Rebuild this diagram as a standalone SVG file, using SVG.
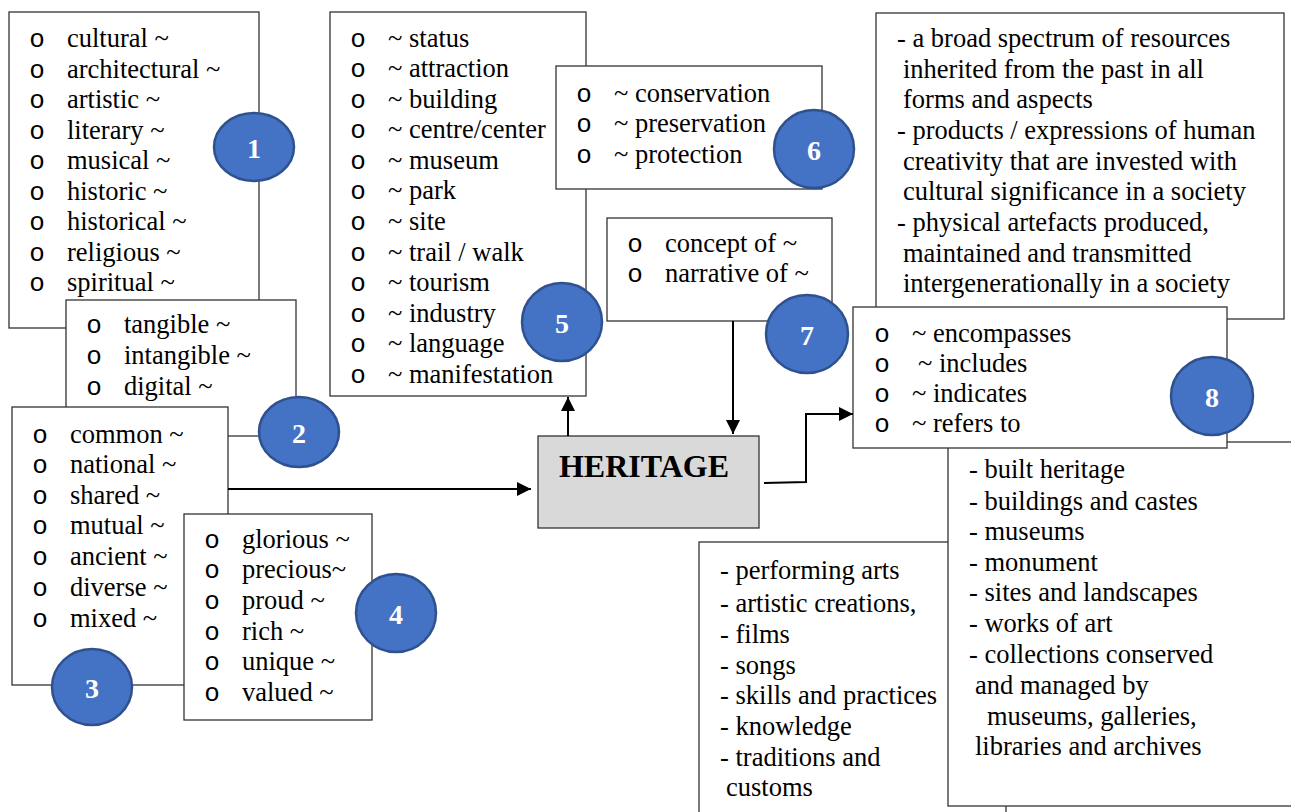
<svg xmlns="http://www.w3.org/2000/svg" width="1291" height="812" viewBox="0 0 1291 812">
<style>
.box{fill:#fff;stroke:#333;stroke-width:1.3}
.c{fill:#4472C4;stroke:#2F528F;stroke-width:2.5}
.ln{fill:none;stroke:#000;stroke-width:2}
</style>
<defs>
<marker id="ah" viewBox="0 0 10 10" refX="10" refY="5" markerWidth="7.5" markerHeight="7" orient="auto" markerUnits="strokeWidth">
<path d="M0,0 L10,5 L0,10 z" fill="#000"/>
</marker>
</defs>
<rect width="1291" height="812" fill="#fff"/>

<g id="node-adjectives1">
<rect class="box" x="9" y="12" width="250" height="316"/>
<g font-family="Liberation Mono, monospace" font-size="26" text-anchor="middle"><text x="37" y="47">o</text><text x="37" y="77.5">o</text><text x="37" y="108">o</text><text x="37" y="138.5">o</text><text x="37" y="169">o</text><text x="37" y="199.5">o</text><text x="37" y="230">o</text><text x="37" y="260.5">o</text><text x="37" y="291">o</text></g>
<g font-family="Liberation Serif, serif" font-size="26.5"><text x="67" y="47">cultural ~</text><text x="67" y="77.5">architectural ~</text><text x="67" y="108">artistic ~</text><text x="67" y="138.5">literary ~</text><text x="67" y="169">musical ~</text><text x="67" y="199.5">historic ~</text><text x="67" y="230">historical ~</text><text x="67" y="260.5">religious ~</text><text x="67" y="291">spiritual ~</text></g>
</g>
<g id="badge1"><ellipse class="c" cx="254" cy="147" rx="40" ry="34"/><text font-family="Liberation Serif, serif" font-size="28" font-weight="bold" fill="#fff" text-anchor="middle" x="254" y="158">1</text></g>

<g id="node-adjectives2">
<rect class="box" x="66" y="300" width="230" height="136"/>
<g font-family="Liberation Mono, monospace" font-size="26" text-anchor="middle"><text x="94" y="333">o</text><text x="94" y="364">o</text><text x="94" y="395">o</text></g>
<g font-family="Liberation Serif, serif" font-size="26.5"><text x="124" y="333">tangible ~</text><text x="124" y="364">intangible ~</text><text x="124" y="395">digital ~</text></g>
</g>
<g id="badge2"><ellipse class="c" cx="299" cy="432" rx="40" ry="35"/><text font-family="Liberation Serif, serif" font-size="28" font-weight="bold" fill="#fff" text-anchor="middle" x="299" y="443">2</text></g>

<g id="node-adjectives3">
<rect class="box" x="12" y="407" width="216" height="278"/>
<g font-family="Liberation Mono, monospace" font-size="26" text-anchor="middle"><text x="40" y="443">o</text><text x="40" y="473">o</text><text x="40" y="504">o</text><text x="40" y="534">o</text><text x="40" y="565">o</text><text x="40" y="596">o</text><text x="40" y="627">o</text></g>
<g font-family="Liberation Serif, serif" font-size="26.5"><text x="70" y="443">common ~</text><text x="70" y="473">national ~</text><text x="70" y="504">shared ~</text><text x="70" y="534">mutual ~</text><text x="70" y="565">ancient ~</text><text x="70" y="596">diverse ~</text><text x="70" y="627">mixed ~</text></g>
</g>

<g id="node-adjectives4">
<rect class="box" x="184" y="514" width="188" height="206"/>
<g font-family="Liberation Mono, monospace" font-size="26" text-anchor="middle"><text x="212" y="548">o</text><text x="212" y="578">o</text><text x="212" y="609">o</text><text x="212" y="640">o</text><text x="212" y="670">o</text><text x="212" y="701">o</text></g>
<g font-family="Liberation Serif, serif" font-size="26.5"><text x="242" y="548">glorious ~</text><text x="242" y="578">precious~</text><text x="242" y="609">proud ~</text><text x="242" y="640">rich ~</text><text x="242" y="670">unique ~</text><text x="242" y="701">valued ~</text></g>
</g>
<g id="badge3"><ellipse class="c" cx="92" cy="687" rx="40" ry="38"/><text font-family="Liberation Serif, serif" font-size="28" font-weight="bold" fill="#fff" text-anchor="middle" x="92" y="698">3</text></g>
<g id="badge4"><ellipse class="c" cx="396" cy="613" rx="40" ry="39"/><text font-family="Liberation Serif, serif" font-size="28" font-weight="bold" fill="#fff" text-anchor="middle" x="396" y="624">4</text></g>

<g id="node-nouns5">
<rect class="box" x="330" y="12" width="256" height="384"/>
<g font-family="Liberation Mono, monospace" font-size="26" text-anchor="middle"><text x="358" y="47">o</text><text x="358" y="77">o</text><text x="358" y="107.5">o</text><text x="358" y="138">o</text><text x="358" y="168.5">o</text><text x="358" y="199">o</text><text x="358" y="230">o</text><text x="358" y="260.5">o</text><text x="358" y="291">o</text><text x="358" y="321.5">o</text><text x="358" y="352">o</text><text x="358" y="383">o</text></g>
<g font-family="Liberation Serif, serif" font-size="26.5"><text x="388" y="47">~ status</text><text x="388" y="77">~ attraction</text><text x="388" y="107.5">~ building</text><text x="388" y="138">~ centre/center</text><text x="388" y="168.5">~ museum</text><text x="388" y="199">~ park</text><text x="388" y="230">~ site</text><text x="388" y="260.5">~ trail / walk</text><text x="388" y="291">~ tourism</text><text x="388" y="321.5">~ industry</text><text x="388" y="352">~ language</text><text x="388" y="383">~ manifestation</text></g>
</g>
<g id="badge5"><ellipse class="c" cx="562" cy="322" rx="40" ry="39"/><text font-family="Liberation Serif, serif" font-size="28" font-weight="bold" fill="#fff" text-anchor="middle" x="562" y="333">5</text></g>

<g id="node-nouns6">
<rect class="box" x="556" y="66" width="266" height="123"/>
<g font-family="Liberation Mono, monospace" font-size="26" text-anchor="middle"><text x="584" y="102">o</text><text x="584" y="132">o</text><text x="584" y="163">o</text></g>
<g font-family="Liberation Serif, serif" font-size="26.5"><text x="614" y="102">~ conservation</text><text x="614" y="132">~ preservation</text><text x="614" y="163">~ protection</text></g>
</g>
<g id="badge6"><ellipse class="c" cx="814" cy="149" rx="40" ry="39"/><text font-family="Liberation Serif, serif" font-size="28" font-weight="bold" fill="#fff" text-anchor="middle" x="814" y="160">6</text></g>

<g id="node-of7">
<rect class="box" x="607" y="218" width="225" height="103"/>
<g font-family="Liberation Mono, monospace" font-size="26" text-anchor="middle"><text x="635" y="252">o</text><text x="635" y="282">o</text></g>
<g font-family="Liberation Serif, serif" font-size="26.5"><text x="665" y="252">concept of ~</text><text x="665" y="282">narrative of ~</text></g>
</g>
<g id="badge7"><ellipse class="c" cx="807" cy="334" rx="41" ry="39"/><text font-family="Liberation Serif, serif" font-size="28" font-weight="bold" fill="#fff" text-anchor="middle" x="807" y="345">7</text></g>

<g id="node-definitions">
<rect class="box" x="876" y="13" width="408" height="306"/>
<g font-family="Liberation Serif, serif" font-size="26.5"><text x="897" y="47">- a broad spectrum of resources</text><text x="903" y="78">inherited from the past in all</text><text x="903" y="108">forms and aspects</text><text x="897" y="139">- products / expressions of human</text><text x="903" y="170">creativity that are invested with</text><text x="903" y="200">cultural significance in a society</text><text x="897" y="231">- physical artefacts produced,</text><text x="903" y="262">maintained and transmitted</text><text x="903" y="292">intergenerationally in a society</text></g>
</g>

<g id="node-intangible-examples">
<rect class="box" x="699" y="542" width="307" height="300"/>
<g font-family="Liberation Serif, serif" font-size="26.5"><text x="720" y="579">- performing arts</text><text x="720" y="612">- artistic creations,</text><text x="720" y="643">- films</text><text x="720" y="674">- songs</text><text x="720" y="704">- skills and practices</text><text x="720" y="735">- knowledge</text><text x="720" y="766">- traditions and</text><text x="726" y="796">customs</text></g>
</g>

<g id="node-tangible-examples">
<rect class="box" x="948" y="442" width="380" height="364"/>
<g font-family="Liberation Serif, serif" font-size="26.5"><text x="969" y="478">- built heritage</text><text x="969" y="510">- buildings and castes</text><text x="969" y="540">- museums</text><text x="969" y="571">- monument</text><text x="969" y="601">- sites and landscapes</text><text x="969" y="632">- works of art</text><text x="969" y="663">- collections conserved</text><text x="975" y="694">and managed by</text><text x="987" y="725">museums, galleries,</text><text x="975" y="755">libraries and archives</text></g>
</g>

<g id="node-verbs8">
<rect class="box" x="853" y="307" width="374" height="141"/>
<g font-family="Liberation Mono, monospace" font-size="26" text-anchor="middle"><text x="882" y="342">o</text><text x="882" y="372">o</text><text x="882" y="402">o</text><text x="882" y="432">o</text></g>
<g font-family="Liberation Serif, serif" font-size="26.5"><text x="912" y="342">~ encompasses</text><text x="918" y="372">~ includes</text><text x="912" y="402">~ indicates</text><text x="912" y="432">~ refers to</text></g>
</g>
<g id="badge8"><ellipse class="c" cx="1212" cy="396" rx="41" ry="39"/><text font-family="Liberation Serif, serif" font-size="28" font-weight="bold" fill="#fff" text-anchor="middle" x="1212" y="407">8</text></g>

<g id="node-heritage">
<rect x="538" y="436" width="221" height="92" fill="#d9d9d9" stroke="#333" stroke-width="1.3"/>
<text x="644" y="477" font-family="Liberation Serif, serif" font-size="32" font-weight="bold" text-anchor="middle">HERITAGE</text>
</g>

<g id="connectors">
<line class="ln" x1="228" y1="489" x2="531" y2="489" marker-end="url(#ah)"/>
<line class="ln" x1="568" y1="436" x2="568" y2="397" marker-end="url(#ah)"/>
<line class="ln" x1="733" y1="321" x2="733" y2="434" marker-end="url(#ah)"/>
<polyline class="ln" stroke-width="1.6" points="764,483 806,482 806,414 853,414" marker-end="url(#ah)"/>
</g>
</svg>
